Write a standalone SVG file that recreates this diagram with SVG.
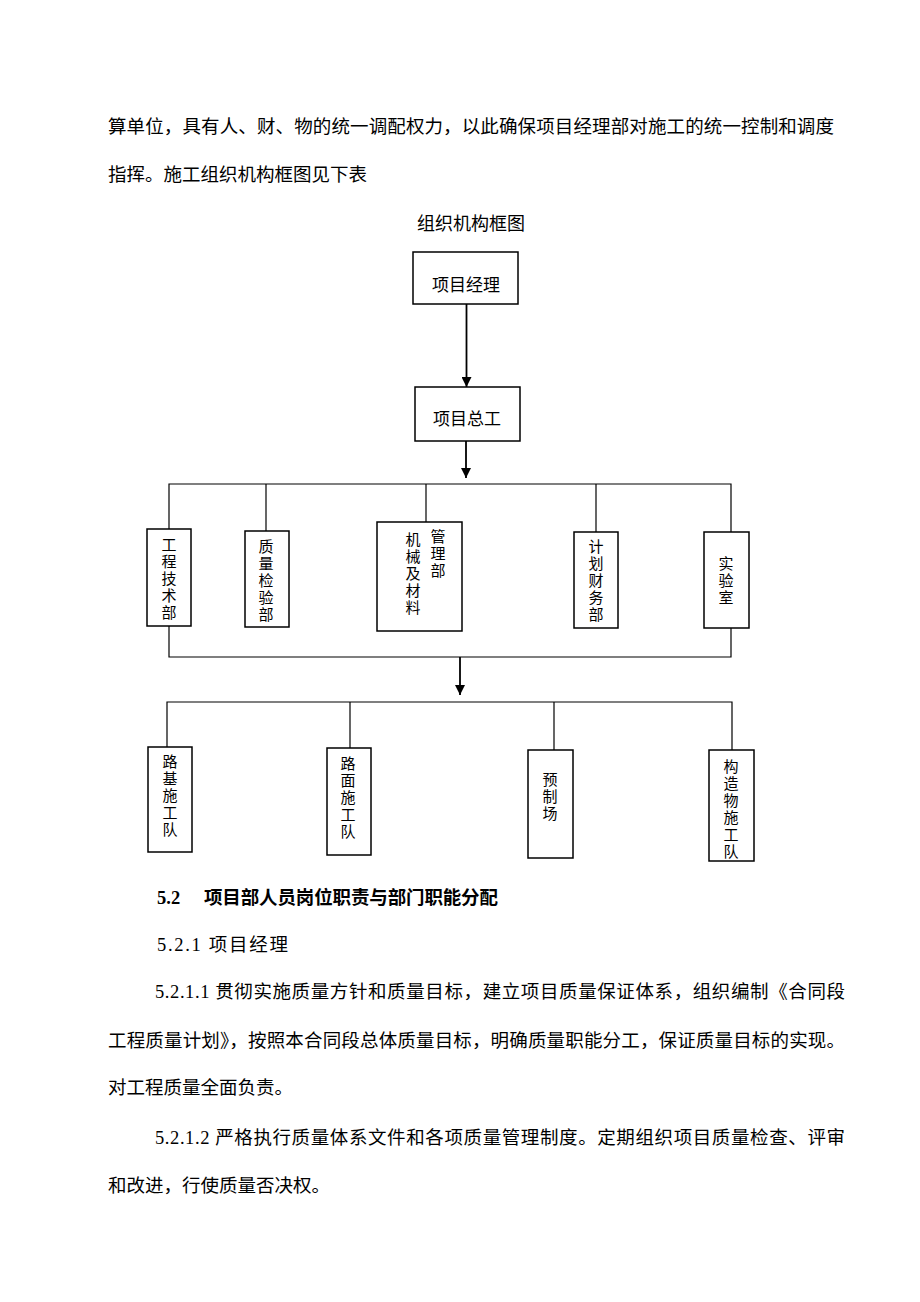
<svg xmlns="http://www.w3.org/2000/svg" width="920" height="1302" viewBox="0 0 920 1302">
<style>
.body{font-family:"Liberation Serif","Noto Sans CJK SC",serif;font-size:18.5px;fill:#000}
.bold{font-weight:bold}
.box{fill:#fff;stroke:#000;stroke-width:1.5}
.lbl{font-family:"Noto Sans CJK SC",sans-serif;font-size:15px;fill:#000;text-anchor:middle;dominant-baseline:central}
.big{font-size:17px}
.ln{fill:none;stroke:#000;stroke-width:1.2}
.ar{fill:none;stroke:#000;stroke-width:1.8}
</style>
<defs>
<marker id="ah" viewBox="0 0 10 10" refX="10" refY="5" markerWidth="10" markerHeight="10" markerUnits="userSpaceOnUse" orient="auto">
<path d="M0,0 L10,5 L0,10 Z" fill="#000"/>
</marker>
</defs>
<rect width="920" height="1302" fill="#fff"/>

<text class="body" x="108" y="133" textLength="726" lengthAdjust="spacing">算单位，具有人、财、物的统一调配权力，以此确保项目经理部对施工的统一控制和调度</text>
<text class="body" x="108" y="181">指挥。施工组织机构框图见下表</text>
<text class="lbl" x="471" y="222" style="font-size:18px">组织机构框图</text>

<g id="connectors">
<line class="ar" x1="466.5" y1="304" x2="466.5" y2="387" marker-end="url(#ah)"/>
<line class="ar" x1="466" y1="441" x2="466" y2="478" marker-end="url(#ah)"/>
<polyline class="ln" points="169,529 169,484 731,484 731,532"/>
<line class="ln" x1="266" y1="484" x2="266" y2="531"/>
<line class="ln" x1="426" y1="484" x2="426" y2="522"/>
<line class="ln" x1="596" y1="484" x2="596" y2="532"/>
<polyline class="ln" points="169,626 169,657 731,657 731,628"/>
<line class="ar" x1="460" y1="657" x2="460" y2="695" marker-end="url(#ah)"/>
<polyline class="ln" points="167,747 167,702 732,702 732,750"/>
<line class="ln" x1="350" y1="702" x2="350" y2="748"/>
<line class="ln" x1="554" y1="702" x2="554" y2="750"/>
</g>

<g id="pm">
<rect class="box" x="413" y="252" width="105" height="52"/>
<text class="lbl big" x="466" y="283">项目经理</text>
</g>
<g id="chief">
<rect class="box" x="415" y="387" width="105" height="54"/>
<text class="lbl big" x="467" y="417">项目总工</text>
</g>

<g id="eng">
<rect class="box" x="147" y="529" width="44" height="97"/>
<text class="lbl"><tspan x="169" y="543">工</tspan><tspan x="169" y="560">程</tspan><tspan x="169" y="577">技</tspan><tspan x="169" y="594">术</tspan><tspan x="169" y="611">部</tspan></text>
</g>
<g id="qc">
<rect class="box" x="245" y="531" width="44" height="96"/>
<text class="lbl"><tspan x="266" y="545">质</tspan><tspan x="266" y="562">量</tspan><tspan x="266" y="579">检</tspan><tspan x="266" y="596">验</tspan><tspan x="266" y="613">部</tspan></text>
</g>
<g id="mech">
<rect class="box" x="377" y="522" width="85" height="109"/>
<text class="lbl"><tspan x="413" y="538">机</tspan><tspan x="413" y="555">械</tspan><tspan x="413" y="572">及</tspan><tspan x="413" y="589">材</tspan><tspan x="413" y="606">料</tspan></text>
<text class="lbl"><tspan x="438" y="535">管</tspan><tspan x="438" y="552">理</tspan><tspan x="438" y="569">部</tspan></text>
</g>
<g id="fin">
<rect class="box" x="574" y="532" width="44" height="96"/>
<text class="lbl"><tspan x="596" y="545">计</tspan><tspan x="596" y="562">划</tspan><tspan x="596" y="579">财</tspan><tspan x="596" y="596">务</tspan><tspan x="596" y="613">部</tspan></text>
</g>
<g id="lab">
<rect class="box" x="704" y="532" width="45" height="96"/>
<text class="lbl"><tspan x="726" y="562">实</tspan><tspan x="726" y="579">验</tspan><tspan x="726" y="596">室</tspan></text>
</g>

<g id="subgrade">
<rect class="box" x="148" y="747" width="44" height="105"/>
<text class="lbl"><tspan x="170" y="760">路</tspan><tspan x="170" y="777">基</tspan><tspan x="170" y="794">施</tspan><tspan x="170" y="811">工</tspan><tspan x="170" y="828">队</tspan></text>
</g>
<g id="pavement">
<rect class="box" x="327" y="748" width="44" height="107"/>
<text class="lbl"><tspan x="348" y="762">路</tspan><tspan x="348" y="779">面</tspan><tspan x="348" y="796">施</tspan><tspan x="348" y="813">工</tspan><tspan x="348" y="830">队</tspan></text>
</g>
<g id="precast">
<rect class="box" x="528" y="750" width="45" height="108"/>
<text class="lbl"><tspan x="550" y="778">预</tspan><tspan x="550" y="795">制</tspan><tspan x="550" y="812">场</tspan></text>
</g>
<g id="structure">
<rect class="box" x="709" y="750" width="45" height="111"/>
<text class="lbl"><tspan x="731" y="765">构</tspan><tspan x="731" y="782">造</tspan><tspan x="731" y="799">物</tspan><tspan x="731" y="816">施</tspan><tspan x="731" y="833">工</tspan><tspan x="731" y="850">队</tspan></text>
</g>

<text class="body bold" x="157" y="904">5.2</text>
<text class="body bold" x="204" y="904" textLength="294" lengthAdjust="spacing">项目部人员岗位职责与部门职能分配</text>
<text class="body" x="157" y="951" textLength="131" lengthAdjust="spacing">5.2.1 项目经理</text>
<text class="body" x="155" y="998" textLength="690" lengthAdjust="spacing">5.2.1.1 贯彻实施质量方针和质量目标，建立项目质量保证体系，组织编制《合同段</text>
<text class="body" x="108" y="1047" textLength="737" lengthAdjust="spacing">工程质量计划》，按照本合同段总体质量目标，明确质量职能分工，保证质量目标的实现。</text>
<text class="body" x="108" y="1094">对工程质量全面负责。</text>
<text class="body" x="155" y="1144" textLength="690" lengthAdjust="spacing">5.2.1.2 严格执行质量体系文件和各项质量管理制度。定期组织项目质量检查、评审</text>
<text class="body" x="108" y="1192">和改进，行使质量否决权。</text>
</svg>
